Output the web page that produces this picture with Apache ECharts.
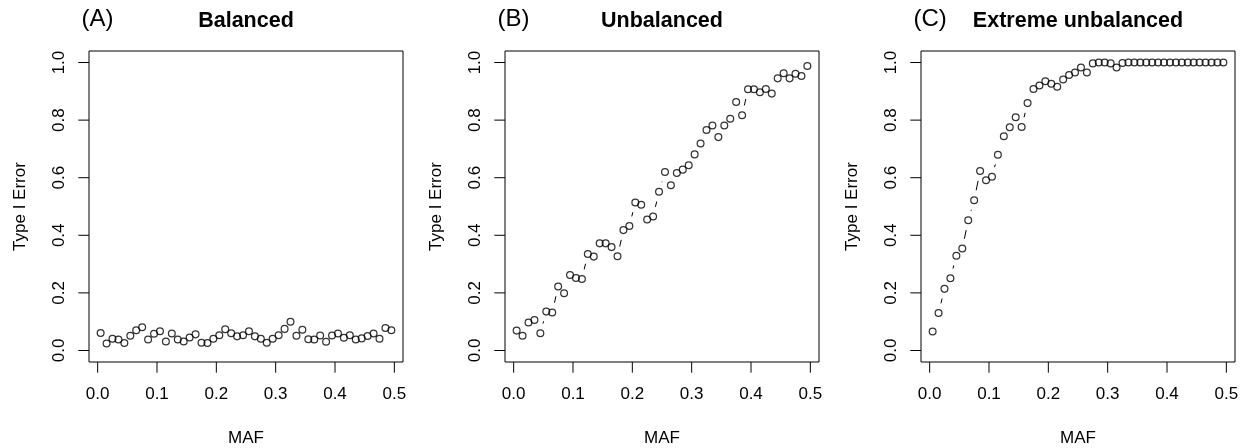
<!DOCTYPE html>
<html>
<head>
<meta charset="utf-8">
<script src="https://cdn.jsdelivr.net/npm/echarts@6/dist/echarts.min.js"></script>
<style>
  html, body { margin: 0; padding: 0; background: #ffffff; }
  #chart { width: 1248px; height: 448px; }
</style>
</head>
<body>
<div id="chart"></div>
<script>
// Minor allele frequency bins
const maf = [
  0.005, 0.015, 0.025, 0.035, 0.045, 0.055, 0.065, 0.075, 0.085, 0.095,
  0.105, 0.115, 0.125, 0.135, 0.145, 0.155, 0.165, 0.175, 0.185, 0.195,
  0.205, 0.215, 0.225, 0.235, 0.245, 0.255, 0.265, 0.275, 0.285, 0.295,
  0.305, 0.315, 0.325, 0.335, 0.345, 0.355, 0.365, 0.375, 0.385, 0.395,
  0.405, 0.415, 0.425, 0.435, 0.445, 0.455, 0.465, 0.475, 0.485, 0.495
];

// Type I error per MAF bin, one list per design
const errBalanced = [
  0.061, 0.024, 0.041, 0.038, 0.026, 0.051, 0.070, 0.081, 0.038, 0.058,
  0.067, 0.031, 0.059, 0.038, 0.031, 0.045, 0.056, 0.027, 0.026, 0.041,
  0.053, 0.074, 0.060, 0.049, 0.053, 0.067, 0.049, 0.041, 0.027, 0.041,
  0.053, 0.075, 0.100, 0.051, 0.072, 0.039, 0.038, 0.052, 0.030, 0.052,
  0.059, 0.044, 0.053, 0.038, 0.042, 0.050, 0.059, 0.041, 0.078, 0.070
];
const errUnbalanced = [
  0.069, 0.051, 0.097, 0.106, 0.060, 0.135, 0.132, 0.222, 0.199, 0.262,
  0.252, 0.248, 0.335, 0.326, 0.372, 0.372, 0.359, 0.327, 0.418, 0.432,
  0.514, 0.506, 0.455, 0.465, 0.551, 0.620, 0.574, 0.616, 0.628, 0.643,
  0.681, 0.719, 0.766, 0.781, 0.741, 0.781, 0.805, 0.863, 0.817, 0.907,
  0.907, 0.897, 0.908, 0.892, 0.945, 0.963, 0.945, 0.961, 0.953, 0.988
];
const errExtreme = [
  0.066, 0.130, 0.214, 0.251, 0.329, 0.354, 0.452, 0.522, 0.623, 0.591,
  0.603, 0.680, 0.744, 0.775, 0.810, 0.776, 0.859, 0.908, 0.920, 0.935,
  0.926, 0.916, 0.941, 0.957, 0.965, 0.983, 0.965, 0.997, 1.000, 1.000,
  0.997, 0.983, 0.998, 1.000, 1.000, 1.000, 1.000, 1.000, 1.000, 1.000,
  1.000, 1.000, 1.000, 1.000, 1.000, 1.000, 1.000, 1.000, 1.000, 1.000
];

const panelLetters = ['(A)', '(B)', '(C)'];
const panelTitles = ['Balanced', 'Unbalanced', 'Extreme unbalanced'];
const xTicks = [0, 0.1, 0.2, 0.3, 0.4, 0.5];
const yTicks = [0, 0.2, 0.4, 0.6, 0.8, 1.0];
const xLabel = 'MAF';
const yLabel = 'Type I Error';

const panels = [errBalanced, errUnbalanced, errExtreme];

// ---- layout / style ----
const FONT = '"Liberation Sans", Arial, Helvetica, sans-serif';
const gridLeft = [89, 505, 921];
const gridTop = 51;
const gridW = 314;
const gridH = 311;
// plotting region: data range padded by 4% on each side
const xMin = 0.005 - 0.04 * 0.49, xMax = 0.495 + 0.04 * 0.49;
const yMin = -0.04, yMax = 1.04;
const GAP = 10;        // blank space left around each point by the connecting segments
const TICK_LEN = 10.7; // outward tick length

// label axes cover exactly the tick range; offsets push them out to the frame edges
const xT0 = xTicks[0], xT1 = xTicks[xTicks.length - 1];
const yT0 = yTicks[0], yT1 = yTicks[yTicks.length - 1];
const padL = (xT0 - xMin) / (xMax - xMin) * gridW;
const innerW = (xT1 - xT0) / (xMax - xMin) * gridW;
const padB = (yT0 - yMin) / (yMax - yMin) * gridH;
const padT = (yMax - yT1) / (yMax - yMin) * gridH;
const innerH = (yT1 - yT0) / (yMax - yMin) * gridH;

function segmentRenderer(params, api) {
  const p0 = api.coord([api.value(0), api.value(1)]);
  const p1 = api.coord([api.value(2), api.value(3)]);
  const dx = p1[0] - p0[0], dy = p1[1] - p0[1];
  const len = Math.hypot(dx, dy);
  if (len <= 2 * GAP) return null;
  const f = GAP / len;
  return {
    type: 'line',
    shape: { x1: p0[0] + f * dx, y1: p0[1] + f * dy, x2: p1[0] - f * dx, y2: p1[1] - f * dy },
    style: { stroke: '#000', lineWidth: 1 }
  };
}

const grid = [], xAxis = [], yAxis = [], series = [], graphic = [];
const txt = { color: '#000', fontSize: 17, fontFamily: FONT };

// plotting boxes (frame + data)
panels.forEach((vals, i) => {
  grid.push({
    left: gridLeft[i], top: gridTop, width: gridW, height: gridH,
    show: true, borderColor: '#000', borderWidth: 1, backgroundColor: 'transparent',
    outerBoundsMode: 'none'
  });
  xAxis.push({
    type: 'value', gridIndex: i, min: xMin, max: xMax,
    splitLine: { show: false }, axisLine: { show: false, onZero: false },
    axisTick: { show: false }, axisLabel: { show: false }
  });
  yAxis.push({
    type: 'value', gridIndex: i, min: yMin, max: yMax,
    splitLine: { show: false }, axisLine: { show: false, onZero: false },
    axisTick: { show: false }, axisLabel: { show: false }
  });

  const segs = [];
  for (let k = 0; k < maf.length - 1; k++) {
    segs.push([maf[k], vals[k], maf[k + 1], vals[k + 1]]);
  }
  series.push({
    type: 'custom', xAxisIndex: i, yAxisIndex: i, silent: true,
    renderItem: segmentRenderer, encode: { x: [0, 2], y: [1, 3] }, data: segs
  });
  series.push({
    type: 'scatter', xAxisIndex: i, yAxisIndex: i, silent: true,
    symbol: 'circle', symbolSize: 6.8,
    itemStyle: { color: 'rgba(0,0,0,0)', borderColor: '#000', borderWidth: 1.25 },
    data: maf.map((m, k) => [m, vals[k]])
  });

  const cx = gridLeft[i] + gridW / 2;
  graphic.push({
    type: 'text', x: gridLeft[i] - 7.5, y: 19,
    style: { text: panelLetters[i], fill: '#000', font: '24px ' + FONT,
             textAlign: 'left', textVerticalAlign: 'middle' }
  });
  graphic.push({
    type: 'text', x: cx, y: 21.5,
    style: { text: panelTitles[i], fill: '#000', font: 'bold 21.5px ' + FONT,
             textAlign: 'center', textVerticalAlign: 'middle' }
  });
});

// label axes
panels.forEach((vals, i) => {
  grid.push({
    left: gridLeft[i] + padL, top: gridTop + padT, width: innerW, height: innerH,
    show: false, outerBoundsMode: 'none'
  });
  xAxis.push({
    type: 'value', gridIndex: 3 + i, min: xT0, max: xT1, interval: xTicks[1] - xTicks[0],
    position: 'bottom', offset: padB,
    splitLine: { show: false }, axisLine: { show: false, onZero: false },
    axisTick: { show: false },
    axisLabel: { show: true, margin: 24, ...txt, formatter: v => v.toFixed(1) },
    name: xLabel, nameLocation: 'middle', nameGap: 68, nameTextStyle: txt
  });
  yAxis.push({
    type: 'value', gridIndex: 3 + i, min: yT0, max: yT1, interval: yTicks[1] - yTicks[0],
    position: 'left', offset: padL,
    splitLine: { show: false }, axisLine: { show: false, onZero: false },
    axisTick: { show: false },
    axisLabel: { show: true, margin: 21.5, rotate: 90, ...txt, formatter: v => v.toFixed(1) },
    name: yLabel, nameLocation: 'middle', nameGap: 60, nameRotate: 90, nameTextStyle: txt
  });
});

const chart = echarts.init(document.getElementById('chart'), null, { renderer: 'canvas' });
chart.setOption({
  animation: false,
  backgroundColor: '#ffffff',
  grid, xAxis, yAxis, series, graphic
});

// outward tick marks on the bottom and left frame edges, placed through each panel's scales
const tickLines = [];
panels.forEach((vals, i) => {
  xTicks.forEach(v => {
    const p = chart.convertToPixel({ gridIndex: i }, [v, yMin]);
    if (p) tickLines.push({ type: 'line', silent: true,
      shape: { x1: p[0], y1: p[1], x2: p[0], y2: p[1] + TICK_LEN },
      style: { stroke: '#000', lineWidth: 1 } });
  });
  yTicks.forEach(v => {
    const p = chart.convertToPixel({ gridIndex: i }, [xMin, v]);
    if (p) tickLines.push({ type: 'line', silent: true,
      shape: { x1: p[0], y1: p[1], x2: p[0] - TICK_LEN, y2: p[1] },
      style: { stroke: '#000', lineWidth: 1 } });
  });
});
chart.setOption({ graphic: graphic.concat(tickLines) });
</script>
</body>
</html>
